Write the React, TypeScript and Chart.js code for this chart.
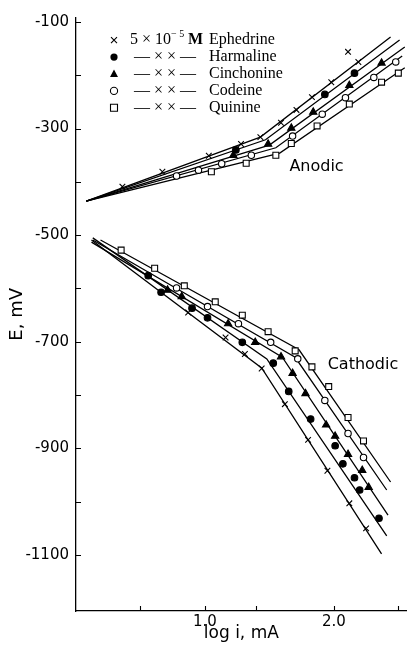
import React, { useEffect, useRef } from 'react';
import { Chart, registerables } from 'chart.js';

Chart.register(...registerables);

type P = [number, number];

// ---------- Anodic fitted lines (log i, E mV) ----------
const ephedrineAnodicLine: P[] = [[0.08, -436], [1.43, -316], [2.44, -128]];
const harmalineAnodicLine: P[] = [[0.08, -436], [1.47, -321], [2.51, -134]];
const cinchonineAnodicLine: P[] = [[0.08, -436], [1.50, -331], [2.55, -147]];
const codeineAnodicLine: P[] = [[0.08, -436], [1.55, -336], [2.53, -164]];
const quinineAnodicLine: P[] = [[0.08, -436], [1.58, -346], [2.55, -186]];

// ---------- Anodic measured points ----------
const ephedrineAnodicPts: P[] = [[0.36, -409], [0.67, -381], [1.03, -351], [1.28, -329], [1.43, -316], [1.59, -289], [1.71, -265], [1.83, -241], [1.98, -213], [2.19, -175], [2.11, -156]];
const harmalineAnodicPts: P[] = [[1.24, -340], [1.93, -236], [2.16, -196]];
const cinchonineAnodicPts: P[] = [[1.22, -350], [1.49, -329], [1.67, -299], [1.84, -269], [2.12, -219], [2.37, -177]];
const codeineAnodicPts: P[] = [[0.78, -389], [0.95, -378], [1.13, -366], [1.36, -350], [1.68, -314], [1.91, -273], [2.09, -242], [2.31, -204], [2.48, -175]];
const quinineAnodicPts: P[] = [[1.05, -381], [1.32, -365], [1.55, -350], [1.67, -328], [1.87, -295], [2.12, -254], [2.37, -213], [2.50, -196]];

// ---------- Cathodic fitted lines ----------
const ephedrineCathodicLine: P[] = [[0.12, -509], [1.44, -749], [2.37, -1098]];
const harmalineCathodicLine: P[] = [[0.13, -505], [1.48, -732], [2.41, -1064]];
const cinchonineCathodicLine: P[] = [[0.12, -513], [1.60, -729], [2.42, -1025]];
const codeineCathodicLine: P[] = [[0.13, -509], [1.70, -729], [2.41, -978]];
const quinineCathodicLine: P[] = [[0.19, -509], [1.73, -715], [2.44, -963]];

// ---------- Cathodic measured points ----------
const ephedrineCathodicPts: P[] = [[0.87, -645], [1.16, -692], [1.31, -723], [1.44, -750], [1.62, -817], [1.80, -884], [1.95, -942], [2.12, -1003], [2.25, -1050]];
const harmalineCathodicPts: P[] = [[0.56, -576], [0.66, -607], [0.90, -637], [1.02, -655], [1.29, -701], [1.53, -740], [1.65, -793], [1.82, -845], [2.01, -895], [2.07, -929], [2.16, -955], [2.20, -978], [2.35, -1031]];
const cinchonineCathodicPts: P[] = [[0.71, -603], [0.82, -615], [1.18, -666], [1.39, -701], [1.59, -728], [1.68, -759], [1.78, -797], [1.94, -856], [2.01, -877], [2.11, -911], [2.22, -941], [2.27, -973]];
const codeineCathodicPts: P[] = [[0.78, -599], [1.02, -634], [1.26, -666], [1.51, -701], [1.72, -732], [1.93, -810], [2.11, -872], [2.23, -917]];
const quinineCathodicPts: P[] = [[0.35, -528], [0.61, -562], [0.84, -595], [1.08, -625], [1.29, -650], [1.49, -681], [1.70, -717], [1.83, -747], [1.96, -784], [2.11, -842], [2.23, -886]];

// ---------- Axes ----------
const xTickValues = [0.5, 1.0, 1.4, 2.0, 2.5];
const xTickLabels = ['', '1.0', '', '2.0', ''];
const yTickValues = [-100, -200, -300, -400, -500, -600, -700, -800, -900, -1000, -1100];
const yTickLabels = ['-100', '', '-300', '', '-500', '', '-700', '', '-900', '', '-1100'];
const xTitle = 'log i, mA';
const yTitle = 'E, mV';

// ---------- Legend / annotations ----------
const seriesNames = ['Ephedrine', 'Harmaline', 'Cinchonine', 'Codeine', 'Quinine'];
const anodicLabel = { text: 'Anodic', x: 1.655, y: -372 };
const cathodicLabel = { text: 'Cathodic', x: 1.952, y: -744 };

const BLACK = '#000';
const SANS = '"DejaVu Sans", sans-serif';
const SERIF = '"Liberation Serif", "DejaVu Serif", serif';

const toXY = (pts: P[]) => pts.map(([x, y]) => ({ x, y }));

const lineDs = (pts: P[]) => ({
  data: toXY(pts),
  showLine: true,
  borderColor: BLACK,
  borderWidth: 1.3,
  pointRadius: 0,
  pointHoverRadius: 0,
  tension: 0,
  fill: false,
  order: 2,
});

type Style = { pointStyle: string; radius: number; filled: boolean };
const styles: Style[] = [
  { pointStyle: 'crossRot', radius: 4, filled: false },
  { pointStyle: 'circle', radius: 3.3, filled: true },
  { pointStyle: 'triangle', radius: 4.2, filled: true },
  { pointStyle: 'circle', radius: 3.2, filled: false },
  { pointStyle: 'rect', radius: 4.2, filled: false },
];

const markDs = (pts: P[], s: Style) => ({
  data: toXY(pts),
  showLine: false,
  pointStyle: s.pointStyle,
  pointRadius: s.radius,
  pointHoverRadius: s.radius,
  pointBackgroundColor: s.filled ? BLACK : '#fff',
  pointBorderColor: BLACK,
  pointBorderWidth: 1.1,
  borderColor: BLACK,
  backgroundColor: s.filled ? BLACK : '#fff',
  order: 1,
});

const drawLegendMarker = (ctx: CanvasRenderingContext2D, i: number, x: number, y: number) => {
  ctx.save();
  ctx.strokeStyle = BLACK;
  ctx.fillStyle = BLACK;
  ctx.lineWidth = 1.1;
  ctx.beginPath();
  if (i === 0) {
    ctx.moveTo(x - 3, y - 3); ctx.lineTo(x + 3, y + 3);
    ctx.moveTo(x + 3, y - 3); ctx.lineTo(x - 3, y + 3);
    ctx.stroke();
  } else if (i === 1) {
    ctx.arc(x, y, 3.6, 0, Math.PI * 2); ctx.fill();
  } else if (i === 2) {
    ctx.moveTo(x, y - 4.5); ctx.lineTo(x + 4, y + 3); ctx.lineTo(x - 4, y + 3); ctx.closePath(); ctx.fill();
  } else if (i === 3) {
    ctx.arc(x, y, 3.6, 0, Math.PI * 2); ctx.stroke();
  } else {
    ctx.rect(x - 3.5, y - 3.5, 7, 7); ctx.stroke();
  }
  ctx.restore();
};

const inwardTicks = {
  id: 'inwardTicks',
  afterDraw(chart: any) {
    const { ctx, chartArea, scales } = chart;
    const xs = scales.x;
    const ys = scales.y;
    ctx.save();
    ctx.strokeStyle = BLACK;
    ctx.lineWidth = 1.1;
    ctx.beginPath();
    ys.ticks.forEach((t: any) => {
      const py = Math.round(ys.getPixelForValue(t.value)) + 0.5;
      ctx.moveTo(chartArea.left, py);
      ctx.lineTo(chartArea.left + 5, py);
    });
    xs.ticks.forEach((t: any) => {
      const px = Math.round(xs.getPixelForValue(t.value)) + 0.5;
      ctx.moveTo(px, chartArea.bottom);
      ctx.lineTo(px, chartArea.bottom - 5);
    });
    ctx.stroke();
    ctx.restore();
  },
};

const textPlugin = {
  id: 'textPlugin',
  afterDraw(chart: any) {
    const { ctx, chartArea, scales } = chart;
    const xs = scales.x;
    const ys = scales.y;
    ctx.save();
    ctx.fillStyle = BLACK;
    // Anodic / Cathodic labels
    ctx.font = `16px ${SANS}`;
    ctx.textBaseline = 'middle';
    ctx.textAlign = 'left';
    ctx.fillText(anodicLabel.text, xs.getPixelForValue(anodicLabel.x), ys.getPixelForValue(anodicLabel.y));
    ctx.fillText(cathodicLabel.text, xs.getPixelForValue(cathodicLabel.x), ys.getPixelForValue(cathodicLabel.y));

    // Legend
    const left = chartArea.left;
    const top = chartArea.top;
    const markerX = left + 38;
    const nameX = left + 133;
    const rowH = 16.9;
    ctx.textBaseline = 'alphabetic';
    for (let i = 0; i < seriesNames.length; i++) {
      const cy = top + 22.5 + i * rowH;
      const base = cy + 3.8;
      drawLegendMarker(ctx, i, markerX, cy);
      ctx.font = `16px ${SERIF}`;
      if (i === 0) {
        ctx.fillText('5 × 10', left + 54, base);
        ctx.font = `10px ${SERIF}`;
        ctx.fillText('− 5', left + 95, base - 7);
        ctx.font = `bold 16px ${SERIF}`;
        ctx.fillText('M', left + 112, base);
      } else {
        ctx.fillText('— × × —', left + 58, base);
      }
      ctx.font = `16px ${SERIF}`;
      ctx.fillText(seriesNames[i], nameX, base);
    }
    ctx.restore();
  },
};

export default function App() {
  const canvasRef = useRef<HTMLCanvasElement | null>(null);

  useEffect(() => {
    if (!canvasRef.current) return;
    const lines = [
      ephedrineAnodicLine, harmalineAnodicLine, cinchonineAnodicLine, codeineAnodicLine, quinineAnodicLine,
      ephedrineCathodicLine, harmalineCathodicLine, cinchonineCathodicLine, codeineCathodicLine, quinineCathodicLine,
    ];
    const anodicPts = [ephedrineAnodicPts, harmalineAnodicPts, cinchonineAnodicPts, codeineAnodicPts, quinineAnodicPts];
    const cathodicPts = [ephedrineCathodicPts, harmalineCathodicPts, cinchonineCathodicPts, codeineCathodicPts, quinineCathodicPts];

    const datasets: any[] = [
      ...anodicPts.map((p, i) => markDs(p, styles[i])),
      ...cathodicPts.map((p, i) => markDs(p, styles[i])),
      ...lines.map((l) => lineDs(l)),
    ];

    const chart = new Chart(canvasRef.current, {
      type: 'scatter',
      data: { datasets },
      options: {
        animation: false,
        responsive: false,
        maintainAspectRatio: false,
        layout: { padding: { top: 17.7, right: 0, bottom: 0, left: 0 } },
        plugins: { legend: { display: false }, tooltip: { enabled: false } },
        events: [],
        scales: {
          x: {
            type: 'linear',
            min: 0,
            max: 2.565,
            grid: { display: false, drawTicks: false },
            border: { display: true, color: BLACK, width: 1.3 },
            afterBuildTicks: (s: any) => { s.ticks = xTickValues.map((v) => ({ value: v })); },
            afterFit: (s: any) => { s.height = 41; },
            ticks: {
              autoSkip: false,
              maxRotation: 0,
              padding: 2,
              color: BLACK,
              font: { family: SANS, size: 15 },
              callback: (v: any) => { const i = xTickValues.indexOf(Number(v)); return i >= 0 ? xTickLabels[i] : ''; },
            },
            title: {
              display: true,
              text: xTitle,
              color: BLACK,
              font: { family: SANS, size: 17 },
              padding: { top: 0, bottom: 8 },
            },
          },
          y: {
            type: 'linear',
            min: -1205,
            max: -92,
            grid: { display: false, drawTicks: false },
            border: { display: true, color: BLACK, width: 1.3 },
            afterBuildTicks: (s: any) => { s.ticks = yTickValues.map((v) => ({ value: v })); },
            afterFit: (s: any) => { s.width = 76; },
            ticks: {
              autoSkip: false,
              padding: 7,
              color: BLACK,
              font: { family: SANS, size: 15 },
              callback: (v: any) => { const i = yTickValues.indexOf(Number(v)); return i >= 0 ? yTickLabels[i] : ''; },
            },
            title: {
              display: true,
              text: yTitle,
              color: BLACK,
              font: { family: SANS, size: 18 },
              padding: { top: 7, bottom: 0 },
            },
          },
        },
      },
      plugins: [inwardTicks, textPlugin],
    } as any);

    return () => chart.destroy();
  }, []);

  return (
    <div style={{ position: 'fixed', left: 0, top: 0, width: 412, height: 652, background: '#fff' }}>
      <canvas ref={canvasRef} width={412} height={652} style={{ display: 'block', width: 412, height: 652 }} />
    </div>
  );
}
